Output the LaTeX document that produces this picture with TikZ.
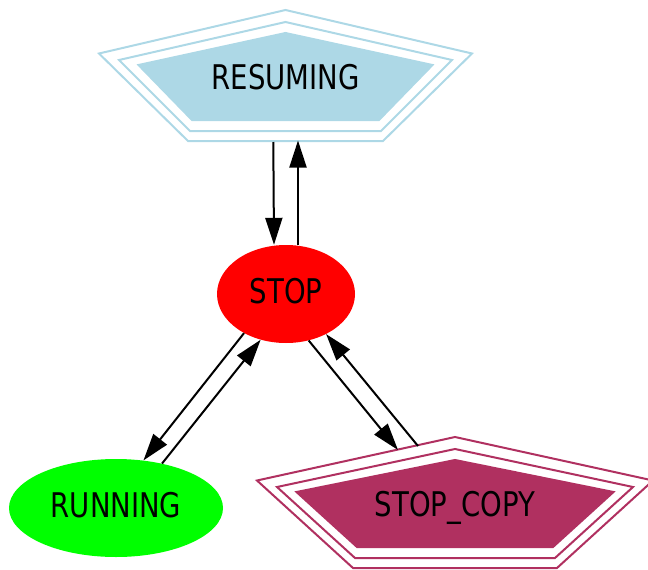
\documentclass[tikz,border=0pt]{standalone}
\usepackage{fontspec}
\usetikzlibrary{shapes.geometric,arrows.meta}
\newfontfamily\lblfont[FakeStretch=0.81]{DejaVu Sans}
\definecolor{lblue}{RGB}{173,216,230}
\definecolor{xmaroon}{RGB}{176,48,96}
\definecolor{xgreen}{RGB}{0,255,0}
\definecolor{xred}{RGB}{255,0,0}
\tikzset{
  lbl/.style={font=\lblfont\fontsize{34}{34}\selectfont, text height=24.8pt, text depth=6pt, inner sep=0pt},
  oval/.style={lbl, ellipse, minimum height=98pt},
  penta/.style={lbl, text depth=0pt, rectangle},
  link/.style={line width=2pt, -{Triangle[length=27pt,width=17pt]}},
  rim/.style={line width=2pt}
}
\newcommand{\pentarings}[4]{% #1 colour, #2 half width of side points, #3 half width of bottom
  \draw[rim, #1] (0,67.5) -- (-#2,24) -- (-#4,-63.5) -- (#4,-63.5) -- (#2,24) -- cycle;
  \draw[rim, #1] (0,55.5) -- ({-#2+20},17.5) -- ({-#4+2},-53.5) -- ({#4-2},-53.5) -- ({#2-20},17.5) -- cycle;
  \fill[#1] (0,44.5) -- ({-#2+39.5},12.5) -- ({-#4+4},-42.5) -- ({#4-4},-42.5) -- ({#2-39.5},12.5) -- cycle;
  \draw[rim, #1] (0,44.5) -- ({-#2+39.5},12.5) -- ({-#4+4},-42.5) -- ({#4-4},-42.5) -- ({#2-39.5},12.5) -- cycle;
}
\begin{document}
\begin{tikzpicture}[x=1pt,y=1pt]
\useasboundingbox (0,0) rectangle (648,-570);

% pentagon states: the rings are drawn first, the label node sits on top
\begin{scope}[shift={(285.5,-77.5)}]
  \pentarings{lblue}{186.5}{}{97.5}
\end{scope}
\node[penta] (res) at (285.5,-77.5) {RESUMING};

\begin{scope}[shift={(455,-504.5)}]
  \pentarings{xmaroon}{198}{}{102}
\end{scope}
\node[penta] (copy) at (455,-504.5) {STOP\_COPY};

% elliptic states
\node[oval, fill=xred, minimum width=138pt] (stop) at (286,-294) {STOP};
\node[oval, fill=xgreen, minimum width=214pt] (run) at (116,-508) {RUNNING};

% transitions
\draw[link] ([shift={(-12.2,-64.5)}]res.center) -- ([xshift=-12pt]stop.north);
\draw[link] ([xshift=12pt]stop.north) -- ([shift={(12.5,-63)}]res.center);
\draw[link] (stop.223.6) -- (run.60.5);
\draw[link] (run.44.4) -- (stop.241.9);
\draw[link] (stop.296.6) -- ([shift={(-57,54.5)}]copy.center);
\draw[link] ([shift={(-37,58.5)}]copy.center) -- (stop.315);
\end{tikzpicture}
\end{document}
